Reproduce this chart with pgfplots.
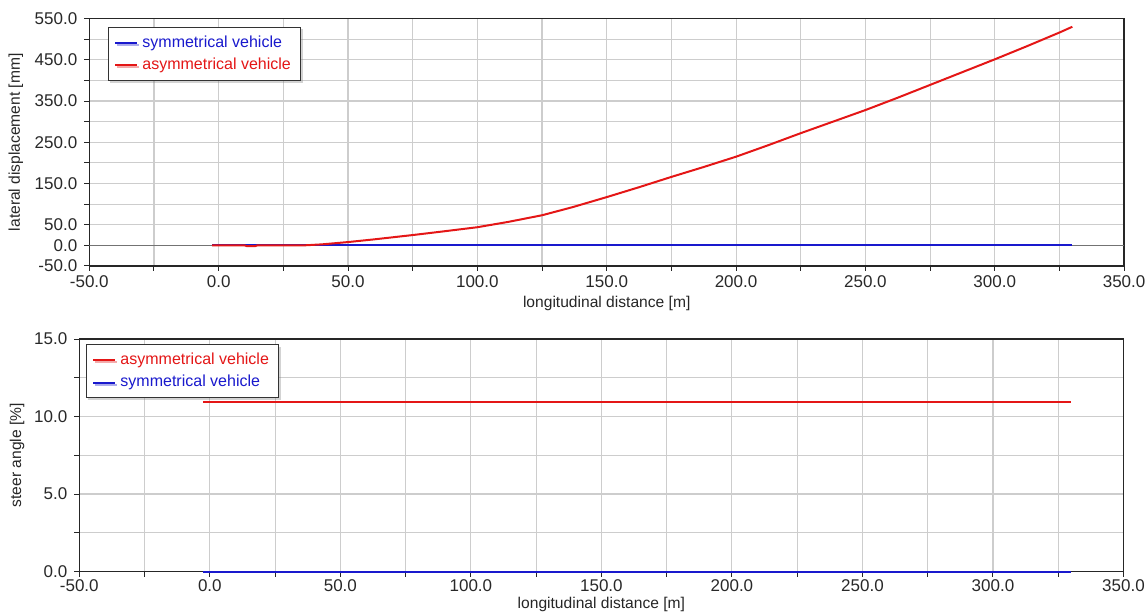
\documentclass[border=0pt]{standalone}
\usepackage{fontspec}
\setmainfont{Liberation Sans}
\usepackage{pgfplots}
\pgfplotsset{compat=1.18}
\usetikzlibrary{shadows}

\definecolor{gridgray}{RGB}{205,205,205}
\definecolor{tickgray}{RGB}{40,40,40}
\definecolor{symblue}{RGB}{25,25,205}
\definecolor{asymred}{RGB}{228,22,22}

\pgfplotsset{
  vehicle/.style={
    scale only axis,
    xmin=-50, xmax=350,
    xtick={-50,0,...,350},
    minor x tick num=1,
    grid=both,
    grid style={gridgray, line width=0.55pt},
    minor grid style={gridgray, line width=0.55pt},
    axis line style={black!85, line width=0.6pt},
    tick align=outside,
    tick pos=left,
    major tick length=2.5pt, minor tick length=2.5pt,
    tick style={black!85, line width=0.5pt},
    tick label style={font=\fontsize{8.5}{10}\selectfont, text=tickgray},
    /pgf/number format/fixed,
    /pgf/number format/fixed zerofill,
    /pgf/number format/precision=1,
    /pgf/number format/assume math mode=true,
    label style={font=\fontsize{7.8}{9}\selectfont, text=black!85},
    xlabel={longitudinal distance [m]},
    legend cell align=left,
    legend style={font=\fontsize{8}{9.6}\selectfont, draw=black!80,
      line width=0.5pt, fill=white, inner xsep=3pt, inner ysep=2pt,
      anchor=north west,
      drop shadow={shadow xshift=1pt, shadow yshift=-1pt, opacity=0.35}},
    legend image code/.code={\draw[#1, line width=1pt] (0pt,0pt) -- (11pt,0pt);},
  }
}

\begin{document}
\begin{tikzpicture}
\useasboundingbox (0pt,0pt) rectangle (573.5pt,-307pt);

% lateral displacement along the track
\begin{axis}[vehicle,
  at={(44.65pt,-133pt)}, anchor=south west,
  width=517.4pt, height=123.75pt,
  ymin=-50, ymax=550,
  ytick={-50,0,50,150,250,350,450,550},
  minor ytick={100,200,300,400,500},
  ylabel={lateral displacement [mm]},
  ylabel style={at={(axis description cs:-0.071,0.5)}, anchor=center, rotate=0},
  xlabel style={at={(axis description cs:0.5,-0.1495)}, anchor=center},
  xticklabel style={yshift=1pt},
  legend style={at={(axis description cs:0.018,0.966)}},
]
\addplot[black!55, line width=0.6pt, forget plot] coordinates {(-50,0) (350,0)};
\addplot[symblue, line width=1pt] coordinates {(-2.5,0) (330,0)};
\addlegendentry{\textcolor{symblue}{symmetrical vehicle}}
\addplot[asymred, line width=1pt] coordinates {
  (-2.5,0) (0,0) (10,0) (11,-2) (14,-2) (15,0) (33,0) (40,2.5) (50,8)
  (60,14.5) (75,25) (87,34) (100,44) (112,57) (125,73) (137,93)
  (150,117) (162.5,141) (175,166) (187.5,190) (200,215) (212.5,243)
  (225,272) (237.5,300) (250,328) (262.5,358) (275,389) (287.5,420)
  (300,451) (312.5,483) (325,516) (330,530)};
\addlegendentry{\textcolor{asymred}{asymmetrical vehicle}}
\end{axis}

% steer angle along the track
\begin{axis}[vehicle,
  at={(39.65pt,-285.75pt)}, anchor=south west,
  width=522.1pt, height=116.25pt,
  ymin=0, ymax=15,
  clip=false,
  ytick={0,5,10,15},
  minor ytick={2.5,7.5,12.5},
  ylabel={steer angle [\%]},
  ylabel style={at={(axis description cs:-0.0597,0.5)}, anchor=center, rotate=0},
  xlabel style={at={(axis description cs:0.5,-0.14)}, anchor=center},
  xticklabel style={yshift=2pt},
  legend style={at={(axis description cs:0.0064,0.978)}},
]
\addplot[asymred, line width=1pt] coordinates {(-2.5,10.95) (330,10.95)};
\addlegendentry{\textcolor{asymred}{asymmetrical vehicle}}
\addplot[symblue, line width=1pt] coordinates {(-2.5,0) (330,0)};
\addlegendentry{\textcolor{symblue}{symmetrical vehicle}}
\end{axis}
\end{tikzpicture}
\end{document}
